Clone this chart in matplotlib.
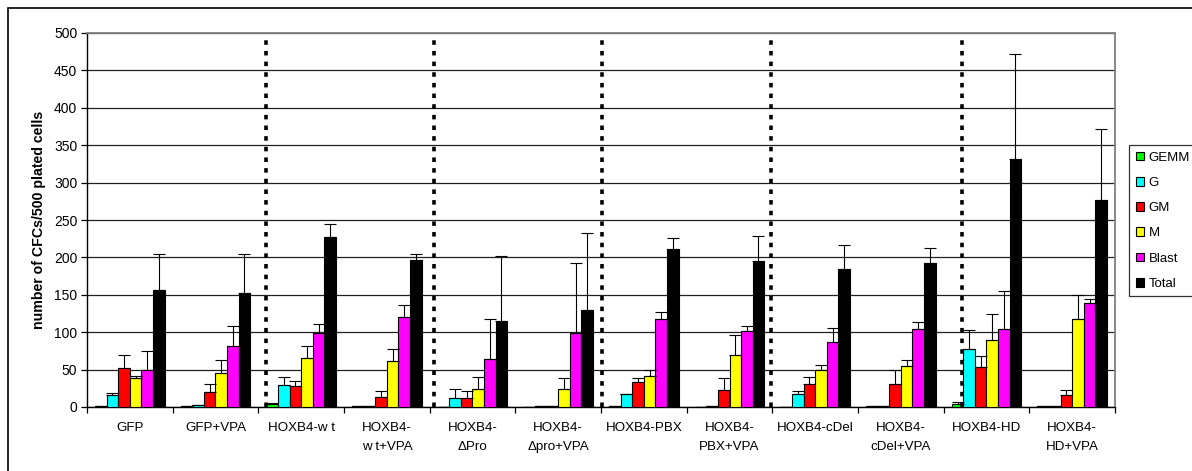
import matplotlib
matplotlib.use("Agg")
import matplotlib.pyplot as plt
from matplotlib.patches import Rectangle
import numpy as np

plt.rcParams['font.family'] = ['Liberation Sans', 'DejaVu Sans']

# colony counts per construct
categories = ["GFP", "GFP+VPA", "HOXB4-w t", "HOXB4-\nw t+VPA", "HOXB4-\nΔPro",
              "HOXB4-\nΔpro+VPA", "HOXB4-PBX", "HOXB4-\nPBX+VPA", "HOXB4-cDel",
              "HOXB4-\ncDel+VPA", "HOXB4-HD", "HOXB4-\nHD+VPA"]
series_names = ["GEMM", "G", "GM", "M", "Blast", "Total"]

gemm  = [1, 1, 3.5, 1, 0, 0.5, 1, 0, 0, 1, 4.5, 1]
g     = [15.6, 2.5, 30, 1, 12, 1, 18, 1, 18, 1, 78, 2]
gm    = [52, 20.5, 27.7, 14, 12, 1.5, 33, 23, 31, 31, 53.5, 15.6]
m     = [39, 45, 66, 61, 24, 24.5, 41.5, 70, 49, 55, 90, 118]
blast = [49, 82, 99.5, 120, 64, 99.5, 117, 101, 87.5, 104.5, 104.5, 139]
total = [157, 153, 227, 197, 115, 129.5, 211, 195.5, 185, 192, 331, 277]

# standard deviations (upper bars only)
gemm_sd  = [0, 0, 2.5, 0, 0, 0, 0, 0, 0, 0, 2.5, 0]
g_sd     = [3, 0, 10, 0, 12.5, 0, 0, 0, 3, 0, 25, 0]
gm_sd    = [17, 10.5, 7, 7, 9, 0, 6, 16, 9, 19, 14.5, 7.4]
m_sd     = [3, 17.5, 16, 17, 16, 14.5, 7.5, 26, 7, 8, 35, 32]
blast_sd = [26, 26, 12, 16, 53, 92.5, 10, 7.5, 18.5, 8.5, 50.5, 6]
total_sd = [47, 51, 17, 7, 87, 102.5, 15, 32.5, 31, 20, 141, 94]

values = [gemm, g, gm, m, blast, total]
errors = [gemm_sd, g_sd, gm_sd, m_sd, blast_sd, total_sd]
colors = ["#00FF00", "#00FFFF", "#FF0000", "#FFFF00", "#FF00FF", "#000000"]

# separators between construct groups
separators = [1.59, 3.55, 5.51, 7.48, 9.71]

fig = plt.figure(figsize=(11.92, 4.71), dpi=100)
ax = fig.add_axes([87 / 1192, 1 - 407 / 471, (1115 - 87) / 1192, (407 - 33) / 471])

x = np.arange(len(categories))
bw = 0.135
for i, (vals, errs, col, name) in enumerate(zip(values, errors, colors, series_names)):
    pos = x + (i - 2.5) * bw
    ax.bar(pos, vals, bw, color=col, edgecolor="black", linewidth=0.8, label=name, zorder=3)
    ax.errorbar(pos, vals, yerr=[np.zeros(len(vals)), errs], fmt="none",
                ecolor="black", elinewidth=0.8, capsize=4.2, capthick=0.8, zorder=4)

ax.vlines(separators, 0, 493, colors="black", linewidth=2.6,
          linestyles=(0, (1.25, 1.7)), zorder=5)

ax.set_xlim(-0.5, len(categories) - 0.5)
ax.set_ylim(0, 500)
ax.set_yticks(np.arange(0, 501, 50))
ax.yaxis.grid(True, color="#202020", linewidth=0.9, zorder=0)
ax.set_axisbelow(True)

ax.set_xticks(x)
ax.set_xticklabels(categories, fontsize=9.6, linespacing=1.75)
ax.set_xticks(np.arange(-0.5, len(categories), 1), minor=True)
ax.tick_params(axis="x", which="major", length=0, pad=11)
ax.tick_params(axis="x", which="minor", length=4, width=0.9, color="black")
ax.tick_params(axis="y", labelsize=10, length=4, width=0.9, pad=3)

for side in ("top", "right"):
    ax.spines[side].set_color("#808080")
    ax.spines[side].set_linewidth(1.3)
for side in ("left", "bottom"):
    ax.spines[side].set_color("black")
    ax.spines[side].set_linewidth(1.0)

ax.set_ylabel("number of CFCs/500 plated cells", fontsize=10.2, fontweight="bold", labelpad=6)

leg = fig.legend(loc="upper left", bbox_to_anchor=(1129 / 1192, 1 - 145 / 471),
                 fontsize=9.5, frameon=True, fancybox=False, edgecolor="black",
                 handlelength=0.65, handleheight=0.65, handletextpad=0.35,
                 labelspacing=1.0, borderpad=0.5, borderaxespad=0)
leg.get_frame().set_linewidth(0.9)

# chart area border
top = 1 - 7.5 / 471
fig.patches.append(Rectangle((8 / 1192, -0.1), 1.2, top + 0.1, transform=fig.transFigure,
                             fill=False, edgecolor="black", linewidth=1.2))

fig.savefig("out.png", dpi=100)
